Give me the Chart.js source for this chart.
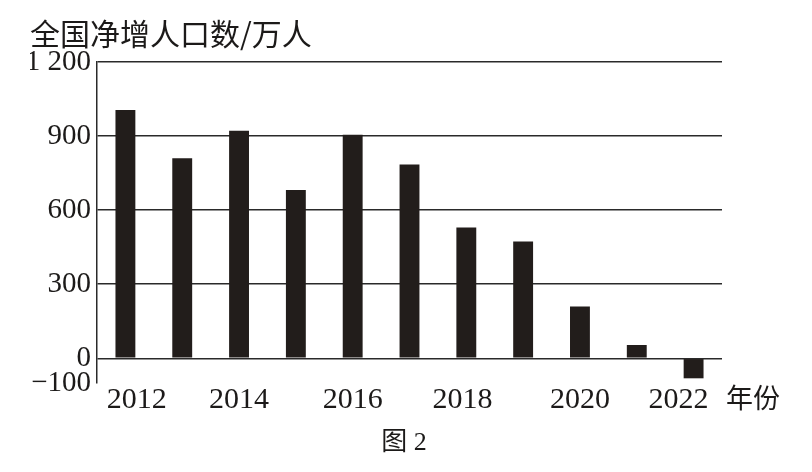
<!DOCTYPE html>
<html><head><meta charset="utf-8">
<script src="https://cdn.jsdelivr.net/npm/chart.js@4/dist/chart.umd.min.js"></script>
<style>html,body{margin:0;padding:0;background:#fff}#wrap{width:812px;height:472px;position:relative}</style>
</head><body><div id="wrap"><canvas id="c"></canvas></div>
<script>
const years = ['2012','2013','2014','2015','2016','2017','2018','2019','2020','2021','2022'];
const netIncrease = [1006, 810, 922, 682, 905, 785, 530, 473, 210, 54, -81];
const yTickValues = [-100, 0, 300, 600, 900, 1200];
const yTickLabels = ['\u2212100', '0', '300', '600', '900', '1 200'];
const xTickLabels = ['   2012', '', '2014', '', '2016', '', '2018 ', '', '2020', '', '2022    '];
const yTitle = '全国净增人口数/万人';
const xTitle = '年份';
const caption = '图 2';

const ink = '#1c1a19';
const serif = '"Liberation Serif", "Noto Sans CJK SC", serif';
const cjk = '"Noto Sans CJK SC", sans-serif';

const extraText = {
  id: 'extraText',
  afterDraw(chart) {
    const ctx = chart.ctx;
    const area = chart.chartArea;
    ctx.save();
    ctx.fillStyle = ink;
    ctx.textBaseline = 'middle';
    ctx.textAlign = 'left';
    ctx.font = '27px ' + cjk;
    ctx.fillText(xTitle, area.right + 4, area.bottom + 15);
    ctx.textAlign = 'center';
    ctx.font = '26px ' + serif;
    ctx.fillText(caption, 404, 443);
    ctx.restore();
  }
};

new Chart(document.getElementById('c'), {
  type: 'bar',
  data: {
    labels: years,
    datasets: [{
      data: netIncrease,
      backgroundColor: '#221d1b',
      borderWidth: 0,
      barPercentage: 0.35,
      categoryPercentage: 1
    }]
  },
  options: {
    responsive: true,
    maintainAspectRatio: false,
    animation: false,
    layout: { padding: { left: 30, right: 90, top: 0, bottom: 63 } },
    plugins: {
      legend: { display: false },
      tooltip: { enabled: false },
      title: {
        display: true,
        text: yTitle,
        align: 'start',
        color: ink,
        font: { family: cjk, size: 30, weight: 'normal' },
        padding: { top: 16, bottom: 10 }
      }
    },
    scales: {
      x: {
        offset: true,
        grid: { display: false },
        border: { display: false },
        ticks: {
          color: ink,
          font: { family: serif, size: 30 },
          padding: -9,
          autoSkip: false,
          maxRotation: 0,
          callback: (v, i) => xTickLabels[i]
        }
      },
      y: {
        min: -100,
        max: 1200,
        afterBuildTicks: s => { s.ticks = yTickValues.map(v => ({ value: v })); },
        afterFit: s => { s.width = 67; },
        grid: {
          drawTicks: false,
          lineWidth: 1.5,
          color: c => (c.tick && c.tick.value === -100) ? 'rgba(0,0,0,0)' : '#2a2a2a'
        },
        border: { display: true, color: '#2a2a2a', width: 1.5 },
        ticks: {
          color: ink,
          font: { family: serif, size: 29 },
          padding: 6,
          callback: v => yTickLabels[yTickValues.indexOf(v)]
        }
      }
    }
  },
  plugins: [extraText]
});
</script>
</body></html>
